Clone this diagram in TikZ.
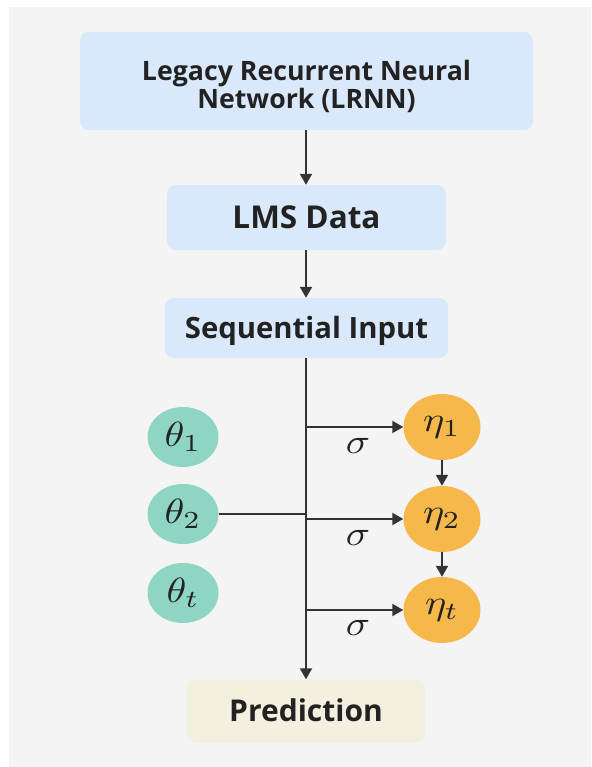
\documentclass[tikz,border=0pt]{standalone}
\usepackage{fontspec}
\setmainfont{Open Sans}
\usetikzlibrary{arrows.meta,shapes.geometric}
\definecolor{bg}{HTML}{F4F4F4}
\definecolor{bluebox}{HTML}{DAE8FB}
\definecolor{predbox}{HTML}{F3F0DF}
\definecolor{teal}{HTML}{8FD5C3}
\definecolor{orange}{HTML}{F7B84B}
\definecolor{ink}{HTML}{333333}
\definecolor{txt}{HTML}{222222}
\newcommand{\mymath}[1]{\scalebox{4}[3.5]{$#1$}}
\begin{document}
\begin{tikzpicture}[x=1pt,y=-1pt,
  box/.style={rectangle,rounded corners=9pt,fill=bluebox,draw=none,text=txt,
    font=\fontsize{30}{30}\selectfont\bfseries,align=center,inner sep=0pt,
    text height=21.4pt,text depth=0pt},
  thetanode/.style={ellipse,fill=teal,minimum width=71pt,minimum height=60pt,inner sep=0pt,
    text=txt},
  etanode/.style={ellipse,fill=orange,minimum width=77pt,minimum height=66pt,inner sep=0pt,
    text=txt},
  conn/.style={draw=ink,line width=2pt},
  arr/.style={conn,-{Triangle[length=11pt,width=12pt]}},
  siglab/.style={text=txt,inner sep=0pt}]
\useasboundingbox (0,0) rectangle (591,767);
\fill[white] (0,0) rectangle (591,767);
\fill[bg] (9,7) rectangle (591,767);
% boxes
\node[box,font=\fontsize{26.7}{25.5}\selectfont\bfseries,text height=54.4pt,text depth=0pt,
  minimum width=453pt,minimum height=98pt] (lrnn) at (306.5,81) {Legacy Recurrent Neural\\Network (LRNN)};
\node[box,font=\fontsize{31.5}{31.5}\selectfont\bfseries,text height=22.5pt,
  minimum width=279pt,minimum height=65pt] (lms) at (306.5,217.5) {LMS Data};
\node[box,font=\fontsize{29.3}{29.3}\selectfont\bfseries,text height=20.9pt,
  minimum width=283pt,minimum height=60pt] (seq) at (306.5,328) {Sequential Input};
\node[box,fill=predbox,minimum width=238pt,minimum height=63pt] (pred) at (306,711) {Prediction};
% theta
\node[thetanode] (t1) at (183,437) {\mymath{\theta_1}};
\node[thetanode] (t2) at (183,514) {\mymath{\theta_2}};
\node[thetanode] (tt) at (183,593) {\mymath{\theta_t}};
% eta
\node[etanode] (e1) at (442,427) {\mymath{\eta_1}};
\node[etanode] (e2) at (442,519) {\mymath{\eta_2}};
\node[etanode] (et) at (442,610) {\mymath{\eta_t}};
% trunk coordinates
\coordinate (j1) at (306,427);
\coordinate (j2) at (306,519);
\coordinate (jt) at (306,610);
\coordinate (jth) at (306,514);
% connectors
\draw[arr] (lrnn.south -| 306,0) -- (lms.north -| 306,0);
\draw[arr] (lms.south -| 306,0) -- (seq.north -| 306,0);
\draw[arr] (seq.south -| 306,0) -- (pred.north -| 306,0);
\draw[arr] (j1) -- (e1.west);
\draw[arr] (j2) -- (e2.west);
\draw[arr] (jt) -- (et.west);
\draw[conn] (t2.east) -- (jth);
\draw[arr] (e1.south) -- (e2.north);
\draw[arr] (e2.south) -- (et.north);
% sigma labels
\node[siglab] (s1) at (358,446) {\mymath{\sigma}};
\node[siglab] (s2) at (358,538) {\mymath{\sigma}};
\node[siglab] (st) at (358,628) {\mymath{\sigma}};
\end{tikzpicture}
\end{document}
